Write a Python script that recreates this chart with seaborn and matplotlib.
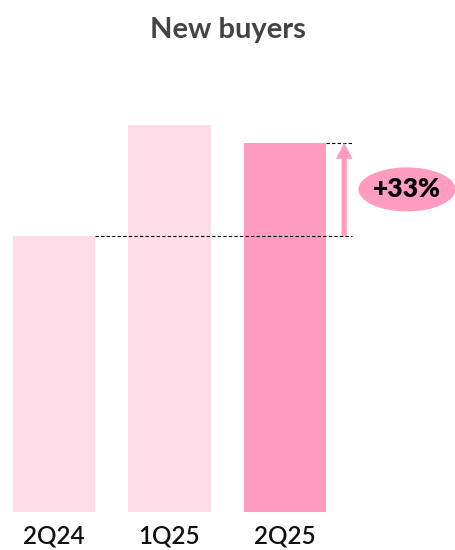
import matplotlib
matplotlib.use("Agg")
import matplotlib.pyplot as plt
import seaborn as sns
from matplotlib.patches import Ellipse

quarters = ["2Q24", "1Q25", "2Q25"]
values = [100, 140, 133.7]
bar_colors = ["#FFDDE8", "#FFDDE8", "#FF9CBF"]
title = "New buyers"
growth_label = "+33%"

sns.set_theme(style="white")
plt.rcParams["font.family"] = ["Lato", "DejaVu Sans"]

fig = plt.figure(figsize=(4.55, 5.5), dpi=100)
ax = fig.add_axes([0, 38 / 550, 1, 442 / 550])

sns.barplot(x=quarters, y=values, hue=quarters, palette=bar_colors,
            width=0.714, linewidth=0, legend=False, ax=ax, saturation=1)

ax.set_xlim(-0.4675, 3.47)
ax.set_ylim(0, 160.1)
for s in ax.spines.values():
    s.set_visible(False)
ax.set_yticks([])
ax.set_xlabel("")
ax.set_ylabel("")
ax.tick_params(axis="x", length=0, pad=9, labelsize=17.5, labelcolor="#111111")
for lbl in ax.get_xticklabels():
    lbl.set_fontweight("semibold")

v0, v2 = values[0], values[2]
ax.plot([0.357, 2.58], [v0, v0], ls=(0, (3, 2)), color="black", lw=0.8)
ax.plot([2.357, 2.58], [v2, v2], ls=(0, (3, 2)), color="black", lw=0.8)

ax.annotate("", xy=(2.511, v2), xytext=(2.511, v0),
            arrowprops=dict(arrowstyle="simple,head_length=11.5,head_width=12,tail_width=3.8",
                            mutation_scale=1, color="#FF9CBF", lw=0,
                            shrinkA=0, shrinkB=0))

ell = Ellipse((3.054, (v0 + v2) / 2), width=0.84, height=44 / 2.76,
              facecolor="#FF9CBF", edgecolor="none", clip_on=False)
ax.add_patch(ell)
ax.text(3.054, (v0 + v2) / 2, growth_label, ha="center", va="center",
        fontsize=19, fontweight="heavy", color="black")

fig.text(0.5, 1 - 38 / 550, title, ha="center", va="baseline",
         fontsize=21, fontweight="bold", color="#444444")

fig.savefig("out.png", dpi=100)
